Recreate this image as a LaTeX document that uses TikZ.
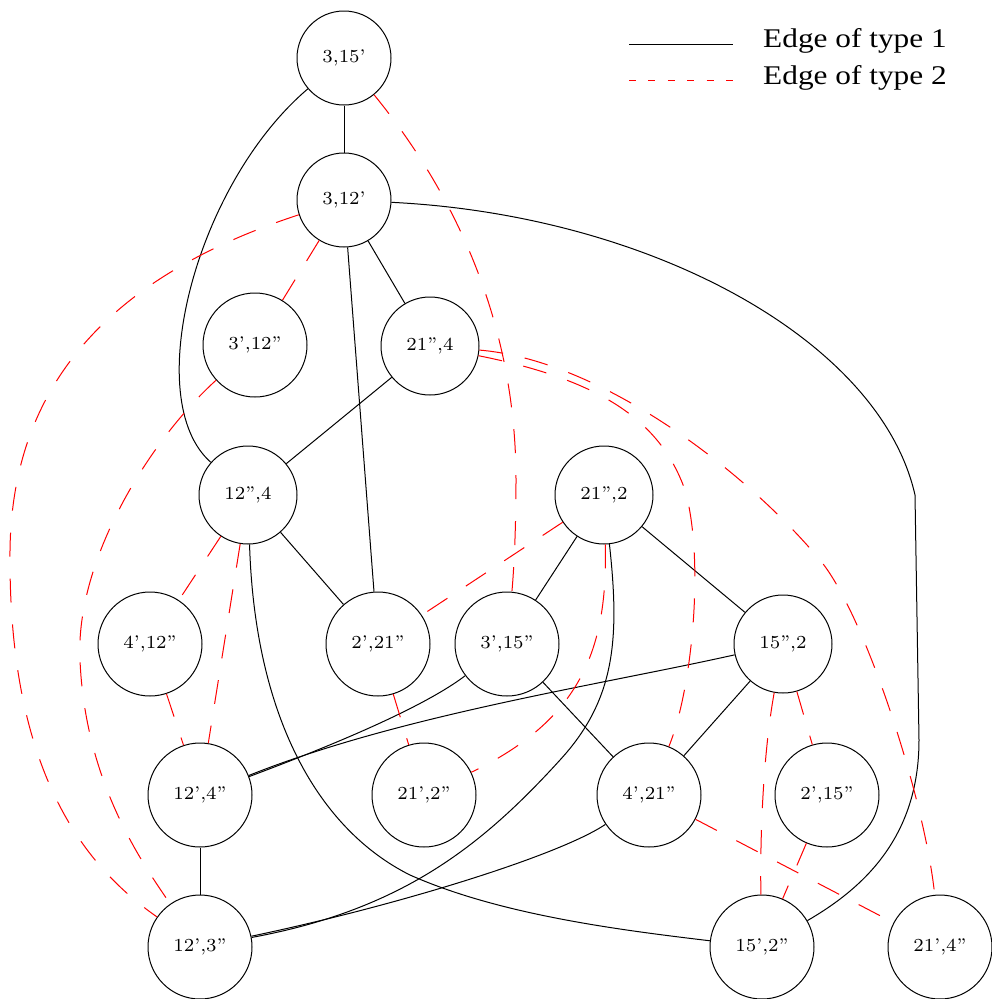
\documentclass[tikz,border=0pt]{standalone}
\usepackage{fontspec}
\usepackage{graphicx}
\newfontfamily\legendfont{Liberation Serif}
\newcommand\lbl[1]{\scalebox{2.63}{\fontsize{7}{8}\selectfont #1}}
\tikzset{
  vtx/.style={circle, draw, line width=1pt, inner sep=0pt, minimum size=104pt},
  vtxs/.style={vtx, minimum size=94pt},
  vtxm/.style={vtx, minimum size=98pt},
  typeone/.style={draw=black, line width=1pt},
  typetwo/.style={draw=red, line width=1pt, dash pattern=on 24pt off 22pt},
  legtwo/.style={draw=red, line width=1.1pt, dash pattern=on 7pt off 12.4pt},
  legtext/.style={anchor=base west, inner sep=0pt, font=\legendfont\fontsize{27}{30}\selectfont},
}
\begin{document}
\begin{tikzpicture}[x=1pt,y=-1pt]
\useasboundingbox (0,0) rectangle (992,999);
% vertices
\node[vtxs] (n315) at (344,58) {\lbl{3,15'}};
\node[vtxs] (n312) at (344,200) {\lbl{3,12'}};
\node[vtx] (a) at (255,345) {\lbl{3',12''}};
\node[vtxm] (b) at (430,346) {\lbl{21'',4}};
\node[vtxm] (c) at (248,495) {\lbl{12'',4}};
\node[vtxm] (d) at (604,495) {\lbl{21'',2}};
\node[vtx] (e) at (150,644) {\lbl{4',12''}};
\node[vtx] (f) at (378,644) {\lbl{2',21''}};
\node[vtx] (g) at (507,644) {\lbl{3',15''}};
\node[vtxm] (h) at (783,644) {\lbl{15'',2}};
\node[vtx] (i) at (200,795) {\lbl{12',4''}};
\node[vtx] (j) at (424,795) {\lbl{21',2''}};
\node[vtx] (k) at (649,795) {\lbl{4',21''}};
\node[vtx] (l) at (827,795) {\lbl{2',15''}};
\node[vtx] (m) at (200,947) {\lbl{12',3''}};
\node[vtx] (n) at (762,947) {\lbl{15',2''}};
\node[vtx] (o) at (940,947) {\lbl{21',4''}};
% edges of type 1
\draw[typeone] (n315) -- (n312);
\draw[typeone] (n315) .. controls (195,185) and (140,400) .. (c);
\draw[typeone] (n312) -- (b);
\draw[typeone] (n312) -- (f);
\draw[typeone] (n312) .. controls (650,215) and (880,340) .. (915,495) -- (919,740) .. controls (919,840) and (860,890) .. (n);
\draw[typeone] (b) -- (c);
\draw[typeone] (c) -- (f);
\draw[typeone] (c) .. controls (255,720) and (320,830) .. (410,875) .. controls (500,915) and (620,930) .. (n);
\draw[typeone] (d) -- (g);
\draw[typeone] (d) -- (h);
\draw[typeone] (d) .. controls (620,640) and (615,700) .. (560,760) .. controls (480,848) and (400,910) .. (m);
\draw[typeone] (g) .. controls (420,710) and (320,750) .. (i);
\draw[typeone] (g) -- (k);
\draw[typeone] (h) .. controls (600,685) and (400,715) .. (i);
\draw[typeone] (h) -- (k);
\draw[typeone] (i) -- (m);
\draw[typeone] (k) .. controls (560,855) and (400,905) .. (m);
% edges of type 2
\draw[typetwo] (n315) .. controls (460,200) and (516,330) .. (516,480) .. controls (516,540) and (513,580) .. (g);
\draw[typetwo] (n312) .. controls (130,270) and (8,370) .. (10,560) .. controls (10,780) and (90,870) .. (m);
\draw[typetwo] (n312) -- (a);
\draw[typetwo] (a) .. controls (150,440) and (75,560) .. (80,660) .. controls (85,780) and (140,860) .. (m);
\draw[typetwo] (b) .. controls (600,380) and (660,420) .. (685,490) .. controls (705,560) and (692,690) .. (k);
\draw[typetwo] (b) .. controls (600,360) and (745,470) .. (820,560) .. controls (865,614) and (925,800) .. (o);
\draw[typetwo] (c) -- (e);
\draw[typetwo] (c) -- (i);
\draw[typetwo] (d) -- (f);
\draw[typetwo] (d) .. controls (608,650) and (580,720) .. (j);
\draw[typetwo] (e) -- (i);
\draw[typetwo] (f) -- (j);
\draw[typetwo] (h) .. controls (762,760) and (760,850) .. (n);
\draw[typetwo] (h) -- (l);
\draw[typetwo] (l) -- (n);
\draw[typetwo] (k) -- (o);
% legend
\coordinate (la1) at (629,44);
\coordinate (lb1) at (733,44);
\coordinate (la2) at (629,80.5);
\coordinate (lb2) at (733,80.5);
\draw[typeone] (la1) -- (lb1);
\draw[legtwo] (la2) -- (lb2);
\node[legtext] (t1) at (763,47.3) {\scalebox{1.16}[1]{Edge of type 1}};
\node[legtext] (t2) at (763,84) {\scalebox{1.16}[1]{Edge of type 2}};
\end{tikzpicture}
\end{document}
